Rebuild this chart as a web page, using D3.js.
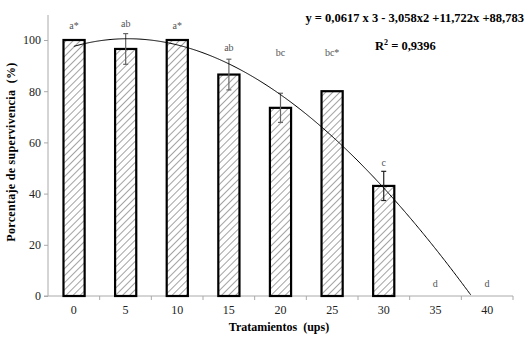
<!DOCTYPE html>
<html>
<head>
<meta charset="utf-8">
<script src="https://cdn.jsdelivr.net/npm/d3@7"></script>
<style>
  body { margin: 0; background: #fff; }
  svg { display: block; }
  text { font-family: "Liberation Serif", "DejaVu Serif", serif; }
</style>
</head>
<body>
<svg id="chart" width="528" height="338"></svg>
<script>
// data
var treatments = ["0", "5", "10", "15", "20", "25", "30", "35", "40"];
var survival = [100, 96.5, 100, 86.5, 73.5, 80, 43, 0, 0];
var errors = [null, 6, null, 6, 5.7, null, 5.7, null, null];
var letters = ["a*", "ab", "a*", "ab", "bc", "bc*", "c", "d", "d"];
// where each letter sits, in % units
var letterLevels = [105.8, 106.5, 105.8, 96.9, 95.3, 95.3, 52, 5, 5];
var yTicks = [0, 20, 40, 60, 80, 100];
// cubic fit, x = treatment position 1..9
var coef = [0.0617, -3.058, 11.722, 88.783];

var svg = d3.select("#chart");
var margin = {left: 48, right: 15};
var W = 528;

var x = d3.scaleBand().domain(treatments).range([margin.left, W - margin.right]).paddingInner(0.59).paddingOuter(0.3);
var xb = d3.scaleBand().domain(treatments).range([margin.left, W - margin.right]);
var y = d3.scaleLinear().domain([0, 100]).range([296, 40]);

// hatch
var defs = svg.append("defs");
var pat = defs.append("pattern")
  .attr("id", "hatch")
  .attr("patternUnits", "userSpaceOnUse")
  .attr("width", 5).attr("height", 5)
  .attr("patternTransform", "rotate(45)");
pat.append("rect").attr("width", 5).attr("height", 5).attr("fill", "#fff");
pat.append("line").attr("x1", 0).attr("y1", 0).attr("x2", 0).attr("y2", 5)
  .attr("stroke", "#333").attr("stroke-width", 0.9);

// axes
var yAxis = svg.append("g")
  .attr("transform", "translate(" + margin.left + ",0)")
  .call(d3.axisLeft(y).tickValues(yTicks).tickSize(4).tickPadding(3));
yAxis.select(".domain").attr("stroke", "#aaa").attr("d", "M0," + y(0) + "V" + 15);
yAxis.selectAll(".tick line").attr("stroke", "#aaa");
yAxis.selectAll(".tick text").attr("font-size", 12).attr("fill", "#222");

var xAxisG = svg.append("g").attr("transform", "translate(0," + y(0) + ")");
xAxisG.append("line").attr("x1", margin.left - 4).attr("x2", W - margin.right)
  .attr("stroke", "#aaa");
xAxisG.selectAll(".xt").data(treatments).enter().append("line")
  .attr("x1", function(d) { return xb(d) + xb.bandwidth(); })
  .attr("x2", function(d) { return xb(d) + xb.bandwidth(); })
  .attr("y1", 0).attr("y2", 4).attr("stroke", "#aaa");
xAxisG.selectAll(".xl").data(treatments).enter().append("text")
  .attr("x", function(d) { return xb(d) + xb.bandwidth() / 2; })
  .attr("y", 18).attr("text-anchor", "middle")
  .attr("font-size", 12).attr("fill", "#222")
  .text(function(d) { return d; });

// bars
treatments.forEach(function(t, i) {
  if (survival[i] <= 0) return;
  svg.append("rect")
    .attr("x", x(t)).attr("y", y(survival[i]))
    .attr("width", x.bandwidth()).attr("height", y(0) - y(survival[i]))
    .attr("fill", "url(#hatch)").attr("stroke", "#000").attr("stroke-width", 2.2);
});

// error bars
treatments.forEach(function(t, i) {
  if (errors[i] == null) return;
  var cx = x(t) + x.bandwidth() / 2;
  var g = svg.append("g").attr("stroke", i === 6 ? "#222" : "#666").attr("stroke-width", 1.2);
  g.append("line").attr("x1", cx).attr("x2", cx)
    .attr("y1", y(survival[i] + errors[i])).attr("y2", y(survival[i] - errors[i]));
  [survival[i] + errors[i], survival[i] - errors[i]].forEach(function(v) {
    g.append("line").attr("x1", cx - 2.5).attr("x2", cx + 2.5).attr("y1", y(v)).attr("y2", y(v));
  });
});

// letters
treatments.forEach(function(t, i) {
  svg.append("text")
    .attr("x", x(t) + x.bandwidth() / 2)
    .attr("y", y(letterLevels[i]) + 3.5)
    .attr("text-anchor", "middle").attr("font-size", 10).attr("fill", "#555")
    .text(letters[i]);
});

// trend curve
function poly(v) { return ((coef[0] * v + coef[1]) * v + coef[2]) * v + coef[3]; }
var xc = d3.scaleLinear().domain([1, 9]).range([xb(treatments[0]) + xb.bandwidth() / 2, xb(treatments[8]) + xb.bandwidth() / 2]);
var pts = d3.range(1, 9.001, 0.02).map(function(v) { return [v, poly(v)]; })
  .filter(function(p) { return p[1] >= 0; });
svg.append("path").datum(pts)
  .attr("fill", "none").attr("stroke", "#000").attr("stroke-width", 1)
  .attr("d", d3.line().x(function(p) { return xc(p[0]); }).y(function(p) { return y(p[1]); }));

// equation
svg.append("text").attr("x", 524).attr("y", 22).attr("text-anchor", "end")
  .attr("font-size", 12.5).attr("font-weight", "bold")
  .text("y = 0,0617 x 3 - 3,058x2 +11,722x +88,783");
var r2 = svg.append("text").attr("x", 375).attr("y", 50)
  .attr("font-size", 12.5).attr("font-weight", "bold");
r2.append("tspan").text("R");
r2.append("tspan").attr("dy", -5).attr("font-size", 8).text("2");
r2.append("tspan").attr("dy", 5).text(" = 0,9396");

// axis titles
svg.append("text").attr("x", 279).attr("y", 331).attr("text-anchor", "middle")
  .attr("font-size", 12).attr("font-weight", "bold").attr("xml:space", "preserve")
  .text("Tratamientos  (ups)");
svg.append("text").attr("transform", "translate(15,152) rotate(-90)")
  .attr("text-anchor", "middle").attr("font-size", 12).attr("font-weight", "bold")
  .attr("letter-spacing", 0.3).attr("xml:space", "preserve")
  .text("Porcentaje de supervivencia  (%)");
</script>
</body>
</html>
